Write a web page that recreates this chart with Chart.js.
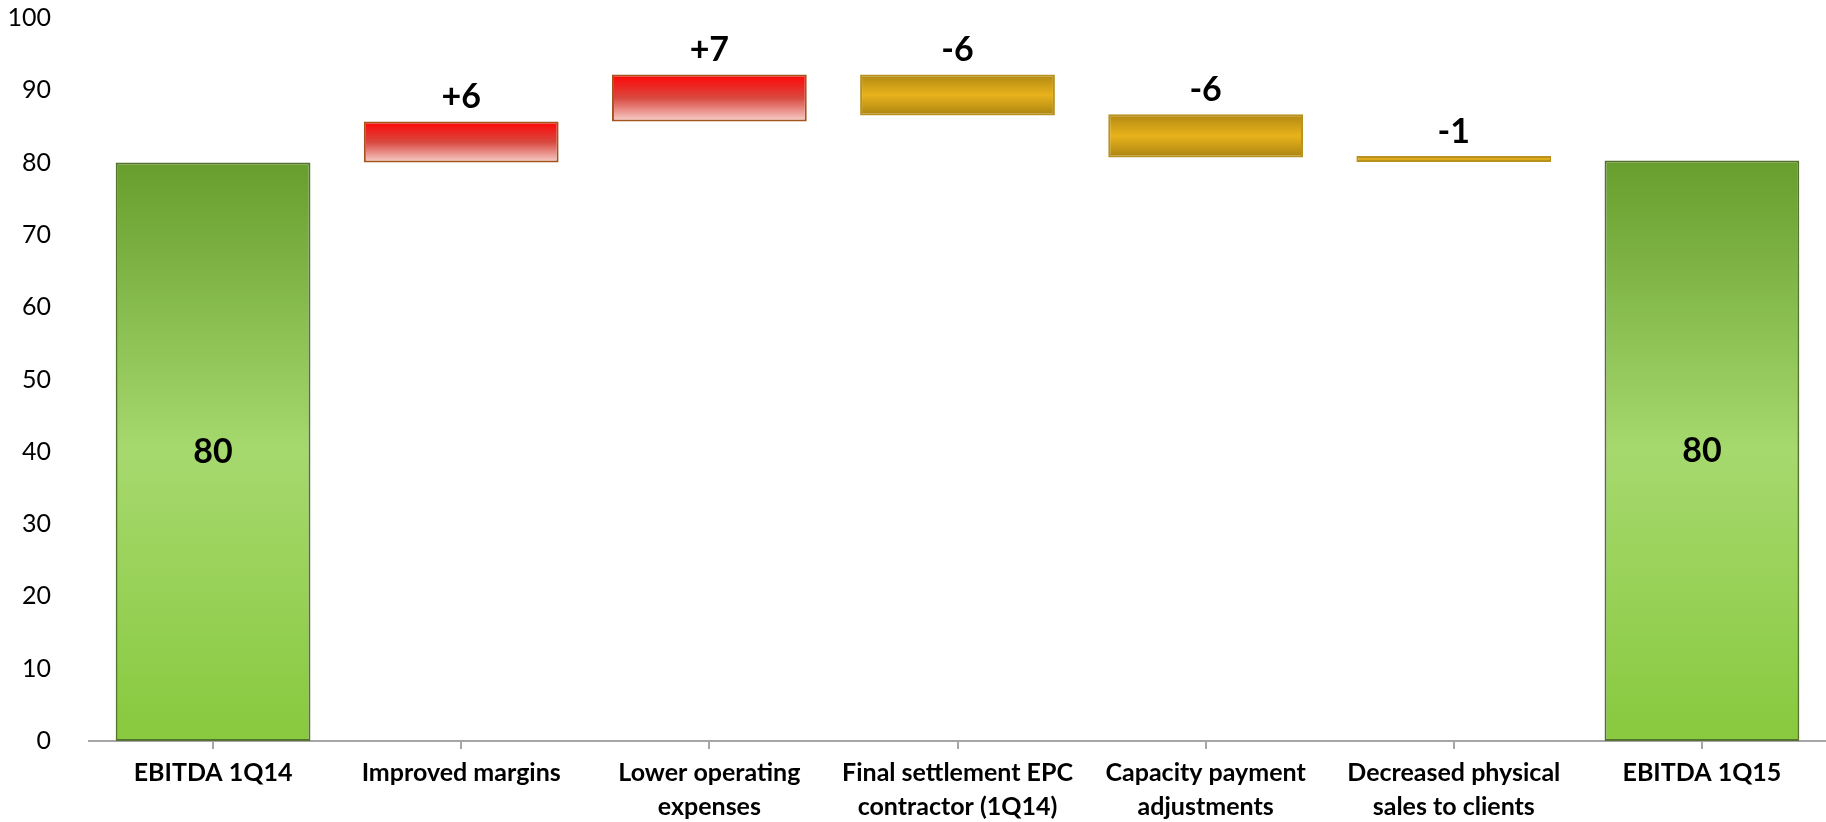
<!DOCTYPE html>
<html>
<head>
<meta charset="UTF-8">
<title>EBITDA 1Q14 - 1Q15</title>
<script src="https://cdn.jsdelivr.net/npm/chart.js@4.4.1/dist/chart.umd.min.js"></script>
<style>
    html, body { margin: 0; padding: 0; background: #fff; }
    .divGrafico { width: 1826px; height: 822px; }
</style>
</head>
<body>
<div class="divGrafico">
    <canvas id="ebitda"></canvas>
</div>
<script>
    // bridge steps: each bar floats from "inicio" to "fim"
    const categorias = [
        'EBITDA 1Q14',
        'Improved margins',
        ['Lower operating', 'expenses'],
        ['Final settlement EPC', 'contractor (1Q14)'],
        ['Capacity payment', 'adjustments'],
        ['Decreased physical', 'sales to clients'],
        'EBITDA 1Q15'
    ];
    const inicio = [0, 80.0, 85.7, 92.2, 86.7, 80.9, 0];
    const fim    = [80.0, 85.7, 92.2, 86.5, 80.7, 80.1, 80.3];
    const tipo   = ['total', 'sobe', 'sobe', 'desce', 'desce', 'desce', 'total'];
    const ticksY = [0, 10, 20, 30, 40, 50, 60, 70, 80, 90, 100];

    const cores = {
        total: { borda: '#56722f', grad: ['#679e2d', '#a6d96e', '#88c93e'] },
        sobe:  { borda: '#a5531c', grad: ['#ff0505', '#d9483f', '#f8d0cb'] },
        desce: { borda: '#b8911e', grad: ['#b08812', '#e8b21c', '#a98310'] }
    };

    function fundo(context) {
        const chart = context.chart;
        const i = context.dataIndex;
        const c = cores[tipo[i]];
        const y = chart.scales.y;
        if (!chart.chartArea || !y) return c.grad[1];
        const topo = y.getPixelForValue(Math.max(inicio[i], fim[i]));
        const base = y.getPixelForValue(Math.min(inicio[i], fim[i]));
        const g = chart.ctx.createLinearGradient(0, topo, 0, base);
        g.addColorStop(0, c.grad[0]);
        g.addColorStop(0.5, c.grad[1]);
        g.addColorStop(1, c.grad[2]);
        return g;
    }

    function rotulo(i) {
        const v = Math.round(fim[i] - inicio[i]);
        if (tipo[i] === 'total') return String(v);
        return v > 0 ? '+' + v : String(v);
    }

    // values above the steps, totals in the middle of the bar
    const rotulos = {
        id: 'rotulos',
        afterDatasetsDraw(chart) {
            const ctx = chart.ctx;
            const meta = chart.getDatasetMeta(0);
            ctx.save();
            ctx.fillStyle = '#000';
            ctx.font = 'bold 34px Lato';
            ctx.textAlign = 'center';
            ctx.textBaseline = 'middle';
            meta.data.forEach((bar, i) => {
                if (tipo[i] === 'total') {
                    ctx.fillText(rotulo(i), bar.x, (bar.y + bar.base) / 2);
                } else {
                    const topo = Math.min(bar.y, bar.base);
                    ctx.fillText(rotulo(i), bar.x, topo - 24);
                }
            });
            ctx.restore();
        }
    };

    let grafico = new Chart(document.getElementById('ebitda'), {
        type: 'bar',
        data: {
            labels: categorias,
            datasets: [{
                data: inicio.map((v, i) => [v, fim[i]]),
                backgroundColor: fundo,
                borderColor: tipo.map(t => cores[t].borda),
                borderWidth: 2,
                borderSkipped: false,
                categoryPercentage: 1,
                barPercentage: 0.785
            }]
        },
        options: {
            responsive: true,
            maintainAspectRatio: false,
            animation: false,
            layout: { padding: { left: 6, top: 18, right: 0, bottom: 0 } },
            plugins: {
                legend: { display: false },
                tooltip: { enabled: false }
            },
            scales: {
                x: {
                    offset: true,
                    afterFit: (scale) => { scale.height = 81; },
                    grid: {
                        offset: false,
                        drawOnChartArea: false,
                        drawTicks: true,
                        tickLength: 8,
                        color: '#a6a6a6',
                        lineWidth: 2
                    },
                    border: { display: true, color: '#a6a6a6', width: 2 },
                    ticks: {
                        color: '#000',
                        padding: 7,
                        maxRotation: 0,
                        autoSkip: false,
                        font: { family: 'Lato', size: 25, weight: 'bold', lineHeight: 1.36 }
                    }
                },
                y: {
                    min: 0,
                    max: 100,
                    afterBuildTicks: (scale) => { scale.ticks = ticksY.map(v => ({ value: v })); },
                    afterFit: (scale) => {
                        // fixed axis width; the label gap should not push the plot down
                        scale.width = 83;
                        scale.paddingTop = 0;
                        scale.paddingBottom = 0;
                    },
                    grid: { display: false, drawTicks: false },
                    border: { display: false },
                    ticks: {
                        color: '#000',
                        padding: 38,
                        font: { family: 'Lato', size: 25 }
                    }
                }
            }
        },
        plugins: [rotulos]
    });
</script>
</body>
</html>
